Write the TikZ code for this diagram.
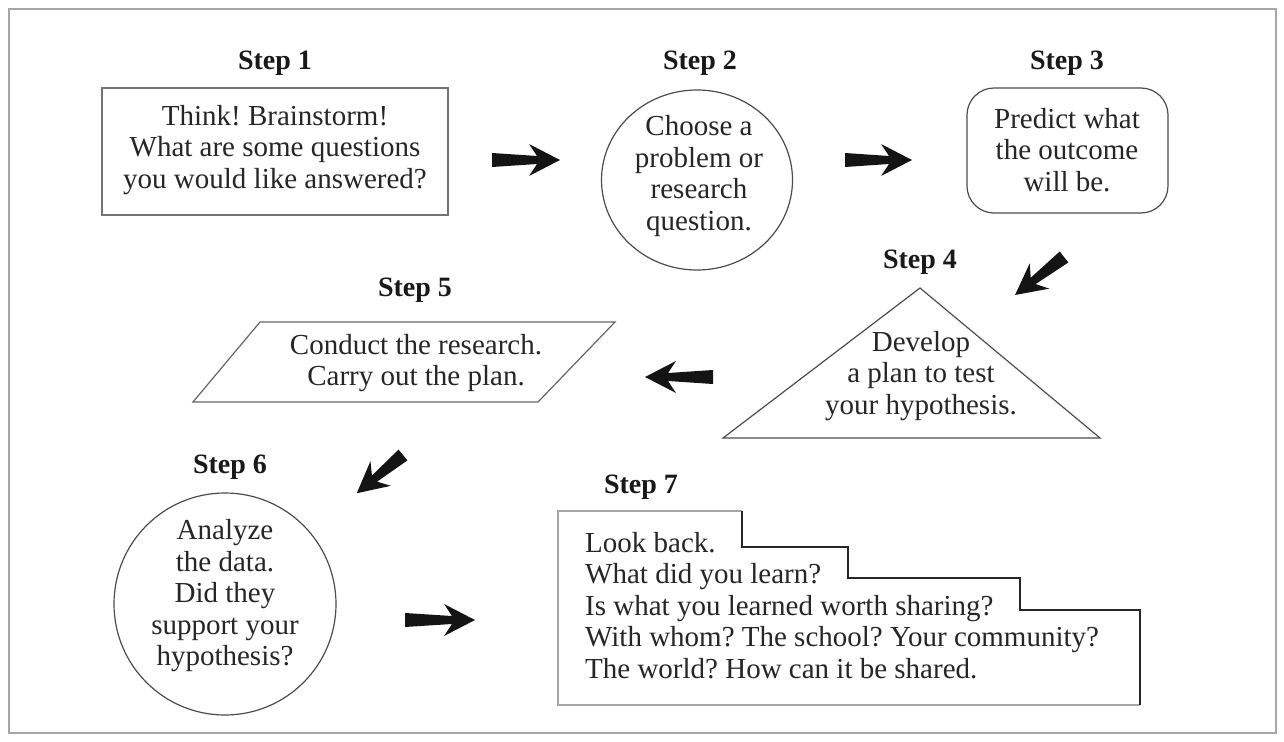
\documentclass[tikz,border=0pt]{standalone}
\usepackage{fontspec}
\setmainfont{Liberation Serif}
\usetikzlibrary{shapes.geometric}
\frenchspacing
\tikzset{
  pics/barrow/.style={code={
    \fill[black!92] (0,7) -- (#1-23,4) -- (#1-31,16) -- (#1,0) -- (#1-31,-16) -- (#1-23,-4) -- (0,-7) -- cycle;
  }}
}
\begin{document}
\begin{tikzpicture}[x=1pt,y=-1pt,
  txt/.style={font=\fontsize{29}{31.5}\selectfont, text=black!85, align=center, inner sep=0pt},
  steplabel/.style={font=\fontsize{28}{30}\selectfont\bfseries, text=black!90, inner sep=0pt},
  outline/.style={draw=black!70, line width=1.2pt, inner sep=0pt},
  frame/.style={draw=black!35, line width=1.5pt}
]
\useasboundingbox (0,0) rectangle (1284,741);
\fill[white] (0,0) rectangle (1284,741);
\draw[frame] (9,9) rectangle (1276,733);

% Step 1
\node[steplabel] (l1) at (275,63) {Step 1};
\node[outline, draw=black!55, minimum width=346pt, minimum height=127pt] (s1) at (275,151.5) {};
\node[txt] (t1) at (275,150) {Think! Brainstorm!\\What are some questions\\you would like answered?};

% Step 2
\node[steplabel] (l2) at (700,63) {Step 2};
\node[ellipse, outline, minimum width=191pt, minimum height=180pt] (s2) at (697,180) {};
\node[txt] (t2) at (699,176) {Choose a\\problem or\\research\\question.};

% Step 3
\node[steplabel] (l3) at (1067,63) {Step 3};
\node[rectangle, rounded corners=27pt, outline, minimum width=201pt, minimum height=125pt] (s3) at (1067.5,150.5) {};
\node[txt] (t3) at (1067,150) {Predict what\\the outcome\\will be.};

% Step 4
\node[steplabel] (l4) at (920,262) {Step 4};
\coordinate (p4a) at (920,288);
\coordinate (p4l) at (723,438);
\coordinate (p4r) at (1100,438);
\draw[outline, line join=miter] (p4a) -- (p4r) -- (p4l) -- cycle;
\node[txt] (t4) at (921,376) {Develop\\a plan to test\\your hypothesis.};

% Step 5
\node[steplabel] (l5) at (415,290) {Step 5};
\coordinate (p5a) at (260,322);
\coordinate (p5b) at (615,322);
\coordinate (p5c) at (538,402);
\coordinate (p5d) at (193,402);
\draw[outline, draw=black!60] (p5a) -- (p5b) -- (p5c) -- (p5d) -- cycle;
\node[txt] (t5) at (416,363) {Conduct the research.\\Carry out the plan.};

% Step 6
\node[steplabel] (l6) at (230,467) {Step 6};
\node[ellipse, outline, minimum width=222pt, minimum height=222pt] (s6) at (225,604) {};
\node[txt] (t6) at (225,596) {Analyze\\the data.\\Did they\\support your\\hypothesis?};

% Step 7
\node[steplabel] (l7) at (641,487) {Step 7};
\draw[draw=black!35, line width=1.2pt] (742,705) -- (558,705) -- (558,511) -- (742,511);
\draw[draw=black!35, line width=1.2pt] (742,705) -- (1140,705);
\draw[draw=black!85, line width=1.3pt] (742,511) -- (742,547) -- (848,547) -- (848,578) -- (1020,578) -- (1020,610) -- (1140,610) -- (1140,705);
\node[txt, align=left, anchor=north west] (t7) at (585,532) {Look back.\\What did you learn?\\Is what you learned worth sharing?\\With whom? The school? Your community?\\The world? How can it be shared.};

% Arrows
\pic at (492,160) {barrow=68};
\pic at (845,160) {barrow=67};
\pic[rotate=217.8] at (1064,257) {barrow=62};
\pic[rotate=180] at (713,377) {barrow=68};
\pic[rotate=219.6] at (403,455) {barrow=60};
\pic at (405,620) {barrow=70};
\end{tikzpicture}
\end{document}
